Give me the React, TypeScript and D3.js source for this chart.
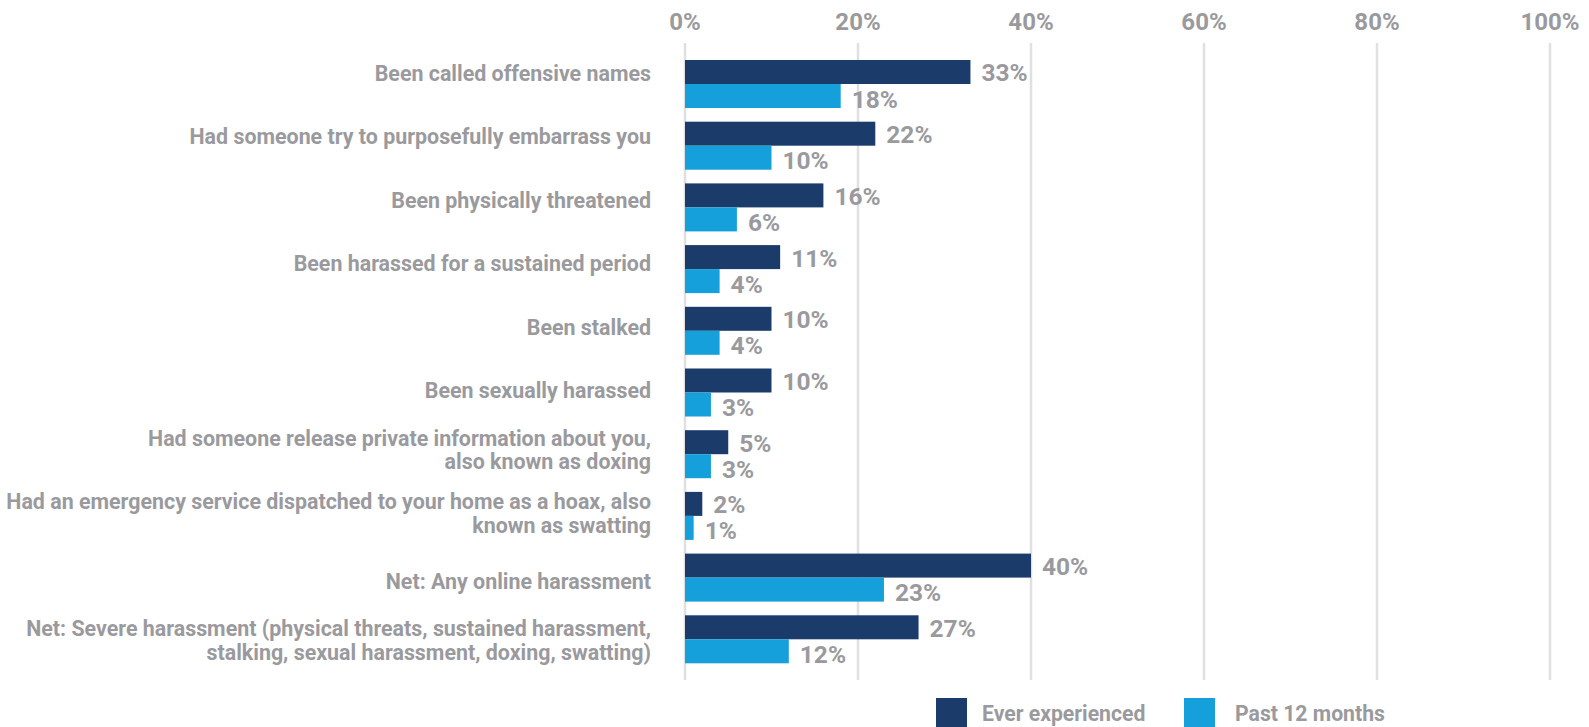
import React from "react";
import * as d3 from "d3";

const categories: string[][] = [
  ["Been called offensive names"],
  ["Had someone try to purposefully embarrass you"],
  ["Been physically threatened"],
  ["Been harassed for a sustained period"],
  ["Been stalked"],
  ["Been sexually harassed"],
  ["Had someone release private information about you,", "also known as doxing"],
  ["Had an emergency service dispatched to your home as a hoax, also", "known as swatting"],
  ["Net: Any online harassment"],
  ["Net: Severe harassment (physical threats, sustained harassment,", "stalking, sexual harassment, doxing, swatting)"],
];
const everExperienced: number[] = [33, 22, 16, 11, 10, 10, 5, 2, 40, 27];
const past12Months: number[] = [18, 10, 6, 4, 4, 3, 3, 1, 23, 12];
const tickValues: number[] = [0, 20, 40, 60, 80, 100];
const seriesNames: string[] = ["Ever experienced", "Past 12 months"];

const W = 1589;
const H = 727;
const DARK = "#1b3c6b";
const LIGHT = "#15a0db";
const TEXT = "#9a9a9e";
const GRID = "#e0e0e0";
const FONT = "Roboto, 'Open Sans', sans-serif";

export default function App() {
  const keys = categories.map((_, i) => String(i));
  const x = d3.scaleLinear().domain([0, 100]).range([685, 1550]);
  const y = d3
    .scaleBand<string>()
    .domain(keys)
    .range([53.15, 670.15])
    .paddingInner(0.222)
    .paddingOuter(0.111);
  // category labels sit on their own, slightly wider, point layout
  const yLabel = d3.scalePoint<string>().domain(keys).range([73, 644.5]);
  const bw = y.bandwidth();
  const half = bw / 2;

  return (
    <svg
      width={W}
      height={H}
      style={{ position: "absolute", left: 0, top: 0, display: "block", background: "#fff" }}
      fontFamily={FONT}
      fontWeight={700}
    >
      {tickValues.map((t) => (
        <line
          key={"g" + t}
          x1={x(t)}
          x2={x(t)}
          y1={43}
          y2={680}
          stroke={GRID}
          strokeWidth={2.5}
        />
      ))}
      {tickValues.map((t) => (
        <text key={"t" + t} x={x(t)} y={30} textAnchor="middle" fontSize={24} fill={TEXT}>
          {t + "%"}
        </text>
      ))}
      {keys.map((k, i) => {
        const y0 = y(k) as number;
        const lc = yLabel(k) as number;
        const n = categories[i].length;
        const lh = 23.5;
        const blockCenter = n > 1 ? lc - 4 : lc;
        return (
          <g key={"b" + k}>
            <rect x={x(0)} y={y0} width={x(everExperienced[i]) - x(0)} height={half} fill={DARK} />
            <rect x={x(0)} y={y0 + half} width={x(past12Months[i]) - x(0)} height={half} fill={LIGHT} />
            <text x={x(everExperienced[i]) + 11} y={y0 + half / 2 + 9.5} fontSize={24.5} fill={TEXT}>
              {everExperienced[i] + "%"}
            </text>
            <text x={x(past12Months[i]) + 11} y={y0 + half * 1.5 + 11.5} fontSize={24.5} fill={TEXT}>
              {past12Months[i] + "%"}
            </text>
            {categories[i].map((line, j) => {
              const lineCenter = blockCenter + (j - (n - 1) / 2) * lh;
              return (
                <text
                  key={"l" + j}
                  x={651}
                  y={lineCenter + 7.6}
                  textAnchor="end"
                  fontSize={21.4}
                  fill={TEXT}
                >
                  {line}
                </text>
              );
            })}
          </g>
        );
      })}
      <rect x={936} y={698} width={31} height={31} fill={DARK} />
      <text x={982} y={721} fontSize={21.2} fill={TEXT}>
        {seriesNames[0]}
      </text>
      <rect x={1184} y={698} width={31} height={31} fill={LIGHT} />
      <text x={1235} y={721} fontSize={21.2} fill={TEXT}>
        {seriesNames[1]}
      </text>
    </svg>
  );
}
